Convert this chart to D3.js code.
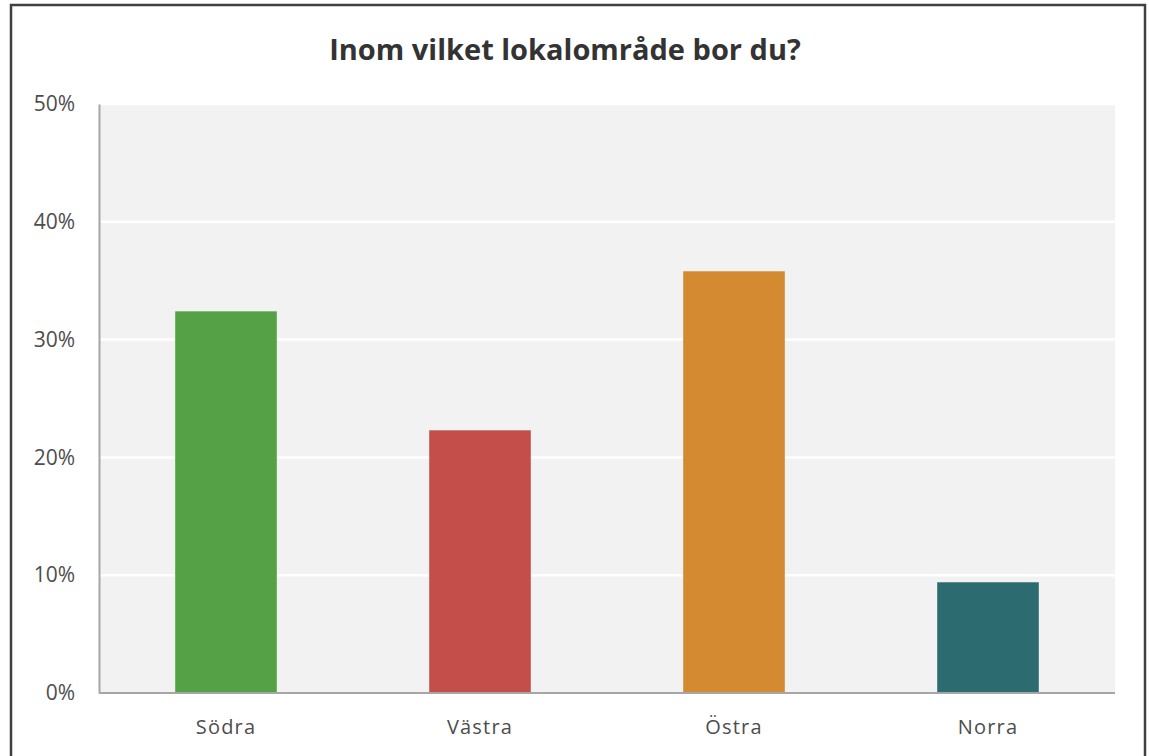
<!DOCTYPE html>
<html>
<head>
<meta charset="utf-8">
<script src="https://cdn.jsdelivr.net/npm/d3@7"></script>
<style>
  body { margin: 0; background: #fff; }
</style>
</head>
<body>
<svg id="canvas"></svg>
<script>
let categories = ['Södra', 'Västra', 'Östra', 'Norra']
let values = [0.324, 0.223, 0.358, 0.094]
let colors = ['#55a146', '#c44f4a', '#d38a31', '#2c6b6f']
let yTicks = [0, 0.1, 0.2, 0.3, 0.4, 0.5]
let title = 'Inom vilket lokalområde bor du?'

const width = 1149
const height = 756
const plotLeft = 99
const plotRight = 1115
const plotTop = 104
const plotBottom = 693

let svg = d3.select('#canvas')
    .attr('width', width)
    .attr('height', height)

// outer chart frame
svg.append('rect')
    .attr('x', 11)
    .attr('y', 5)
    .attr('width', 1134)
    .attr('height', 780)
    .attr('fill', '#fff')
    .attr('stroke', '#404040')
    .attr('stroke-width', 2.5)

let xScale = d3.scaleBand()
    .domain(categories)
    .range([plotLeft, plotRight])
    .paddingInner(0.6)
    .paddingOuter(0.3)

let yScale = d3.scaleLinear()
    .domain([0, 0.5])
    .range([plotBottom, plotTop])

// plot background
svg.append('rect')
    .attr('x', plotLeft)
    .attr('y', plotTop)
    .attr('width', plotRight - plotLeft)
    .attr('height', plotBottom - plotTop)
    .attr('fill', '#f2f2f2')

// gridlines
svg.append('g')
    .selectAll('line')
    .data(yTicks.slice(1))
    .enter()
    .append('line')
    .attr('x1', plotLeft)
    .attr('x2', plotRight)
    .attr('y1', d => yScale(d))
    .attr('y2', d => yScale(d))
    .attr('stroke', '#fff')
    .attr('stroke-width', 2.5)

svg.selectAll('.bar')
    .data(values)
    .enter()
    .append('rect')
    .attr('class', 'bar')
    .attr('x', (d, i) => xScale(categories[i]))
    .attr('y', d => yScale(d))
    .attr('width', xScale.bandwidth())
    .attr('height', d => plotBottom - yScale(d))
    .attr('fill', (d, i) => colors[i])

let yAxis = d3.axisLeft(yScale)
    .tickValues(yTicks)
    .tickFormat(d3.format('.0%'))
    .tickSize(0)
    .tickSizeOuter(0)
    .tickPadding(24)

let xAxis = d3.axisBottom(xScale)
    .tickSize(0)
    .tickSizeOuter(0)
    .tickPadding(27)

let gy = svg.append('g')
    .attr('transform', 'translate(' + plotLeft + ',0)')
    .call(yAxis)

let gx = svg.append('g')
    .attr('transform', 'translate(0,' + plotBottom + ')')
    .call(xAxis)

gx.select('.domain').attr('d', 'M' + plotLeft + ',0H' + plotRight)

svg.selectAll('.domain')
    .attr('stroke', '#a6a6a6')
    .attr('stroke-width', 2)

svg.selectAll('.tick text')
    .attr('fill', '#4d4d4d')
    .style('font-family', '"Open Sans", sans-serif')
    .style('font-size', '21px')

gx.selectAll('.tick text')
    .style('font-size', '20px')
    .style('letter-spacing', '1.2px')

svg.append('text')
    .attr('x', 565)
    .attr('y', 60)
    .attr('text-anchor', 'middle')
    .attr('fill', '#333')
    .style('font-family', '"Open Sans", sans-serif')
    .style('font-weight', 'bold')
    .style('font-size', '29px')
    .text(title)
</script>
</body>
</html>
